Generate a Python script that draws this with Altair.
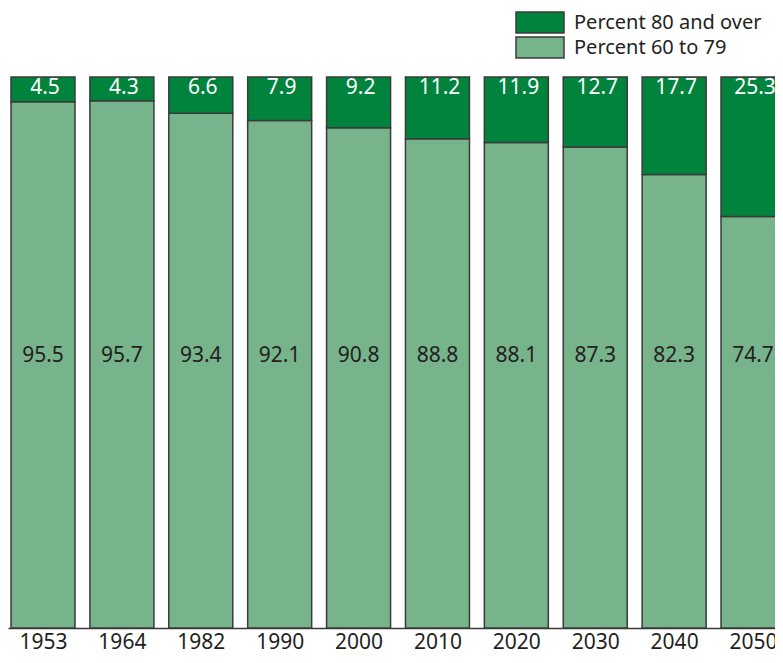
import altair as alt
import pandas as pd

years = ["1953", "1964", "1982", "1990", "2000", "2010", "2020", "2030", "2040", "2050"]
pct_80_over = [4.5, 4.3, 6.6, 7.9, 9.2, 11.2, 11.9, 12.7, 17.7, 25.3]
pct_60_79 = [95.5, 95.7, 93.4, 92.1, 90.8, 88.8, 88.1, 87.3, 82.3, 74.7]
series = ["Percent 80 and over", "Percent 60 to 79"]

HALF = 0.4056  # half bar width in category units

rows = []
for i, y in enumerate(years):
    rows.append({"idx": i, "year": y, "series": series[1], "value": pct_60_79[i], "ord": 0})
    rows.append({"idx": i, "year": y, "series": series[0], "value": pct_80_over[i], "ord": 1})
df = pd.DataFrame(rows)
wide = pd.DataFrame({"idx": list(range(len(years))), "year": years,
                     "p80": pct_80_over, "p6079": pct_60_79})

FONT = "Noto Sans"
TXT = "#231f20"

label_expr = "[" + ",".join("'%s'" % y for y in years) + "][datum.value]"
xscale = alt.Scale(domain=[-0.4437, 9.2787], nice=False, zero=False)
xaxis = alt.Axis(title=None, ticks=False, grid=False, values=list(range(len(years))),
                 labelExpr=label_expr, labelAngle=0, labelFontSize=21,
                 labelFont=FONT, labelColor=TXT, labelPadding=3, labelFlush=False,
                 labelOverlap=False, domainColor="#3a3a3a", domainWidth=1.5)
yscale = alt.Scale(domain=[0, 100], range=[620, 69])

bars = alt.Chart(df).transform_calculate(
    x0=f"datum.idx - {HALF}", x1=f"datum.idx + {HALF}"
).transform_stack(
    stack="value", groupby=["idx"], as_=["v0", "v1"], sort=[alt.SortField("ord")]
).mark_bar(stroke="#3a3a3a", strokeWidth=1.5).encode(
    x=alt.X("x0:Q", scale=xscale, axis=xaxis),
    x2="x1:Q",
    y=alt.Y("v0:Q", scale=yscale, axis=None),
    y2="v1:Q",
    color=alt.Color("series:N",
                    scale=alt.Scale(domain=series, range=["#00843d", "#77b48b"]),
                    legend=alt.Legend(title=None, orient="none", legendX=507, legendY=3,
                                      symbolType="M-1,-1H3.5714V1H-1Z",
                                      symbolSize=441, symbolStrokeColor="#3a3a3a",
                                      symbolStrokeWidth=1.5, symbolOpacity=1,
                                      labelFont=FONT, labelFontSize=20, labelColor=TXT,
                                      labelOffset=36, rowPadding=-4, padding=0,
                                      labelLimit=400)),
)

top_labels = alt.Chart(wide).mark_text(font=FONT, fontSize=21, color="white",
                                       baseline="middle", dx=2).encode(
    x=alt.X("idx:Q", scale=xscale), y=alt.datum(98.0),
    text=alt.Text("p80:Q", format=".1f"))

mid_labels = alt.Chart(wide).mark_text(font=FONT, fontSize=21, color=TXT,
                                       baseline="middle").encode(
    x=alt.X("idx:Q", scale=xscale), y=alt.datum(49.4),
    text=alt.Text("p6079:Q", format=".1f"))

chart = alt.layer(bars, top_labels, mid_labels).properties(
    width=767, height=620,
    autosize=alt.AutoSizeParams(type="none"),
    padding={"left": 0, "top": 0, "right": 0, "bottom": 23},
).configure_view(stroke=None)

chart.save("out.html", embed_options={"renderer": "svg", "actions": False})
